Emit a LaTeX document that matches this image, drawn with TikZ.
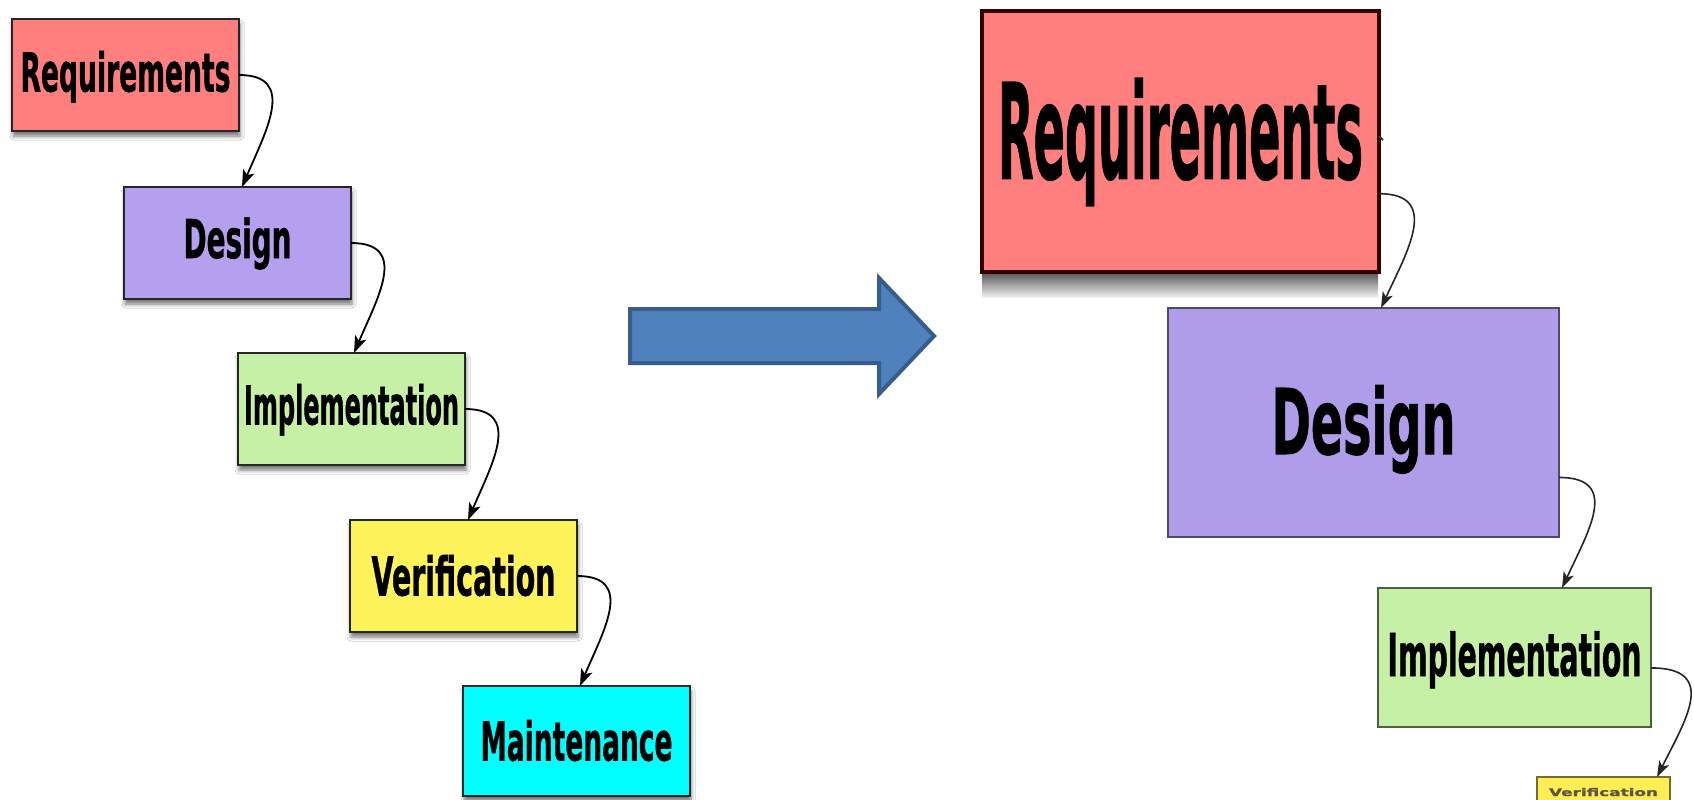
\documentclass[tikz,border=0pt]{standalone}
\usepackage{fontspec}
\setmainfont{DejaVu Sans}[BoldFeatures={FakeBold=1.2}]
\usepackage{graphicx}
\usetikzlibrary{arrows.meta,calc,shadows.blur}

\definecolor{reqred}{HTML}{FF7F7F}
\definecolor{despurple}{HTML}{B4A0EE}
\definecolor{impgreen}{HTML}{C5F0A5}
\definecolor{veryellow}{HTML}{FFF35B}
\definecolor{maincyan}{HTML}{00FFFF}
\definecolor{arrowfill}{HTML}{4F81BD}
\definecolor{arrowline}{HTML}{385D8A}

% squeeze a label to a given width, keeping its height
\newcommand\squeeze[2]{\resizebox{#1pt}{\height}{#2}}

\tikzset{
  face/.style n args={3}{font=\fontsize{#1pt}{#1pt}\selectfont\bfseries,
    text height=#2pt, text depth=#3pt},
  stage/.style={draw=black!85, line width=1.6pt, inner sep=0pt, outer sep=0pt,
    anchor=north west, minimum width=227pt, minimum height=112pt,
    blur shadow={shadow xshift=1pt, shadow yshift=-5pt,
      shadow blur radius=4pt, shadow opacity=55}},
  bigstage/.style={line width=2pt, inner sep=0pt, outer sep=0pt, anchor=north west},
  flow/.style={draw=black, line width=1.8pt,
    -{Stealth[length=17pt, width=12pt, inset=4pt]}},
  thinflow/.style={draw=black!85, line width=1.6pt,
    -{Stealth[length=16pt, width=11pt, inset=4pt]}},
}

\begin{document}
\begin{tikzpicture}[x=1pt, y=-1pt]
\useasboundingbox (0,0) rectangle (1694,800);
\fill[white] (0,0) rectangle (1694,800);

% ---- original cascade ----
\node[stage, fill=reqred, face={53.5}{39}{6}] (req) at (12,19)
  {\squeeze{210}{Requirements}};
\node[stage, fill=despurple, face={53.5}{39}{9}] (des) at (124,187)
  {\squeeze{108}{Design}};
\node[stage, fill=impgreen, face={53.5}{39}{8}] (imp) at (238,353)
  {\squeeze{215}{Implementation}};
\node[stage, fill=veryellow, face={53.5}{39}{0}] (ver) at (350,520)
  {\squeeze{184}{Verification}};
\node[stage, fill=maincyan, face={53.5}{39}{0}, minimum height=110pt] (mai) at (463,686)
  {\squeeze{192}{Maintenance}};

\draw[flow] (req.east) .. controls +(58,0) and +(24,-56) .. ($(req.east |- des.north)+(3,0)$);
\draw[flow] (des.east) .. controls +(58,0) and +(24,-56) .. ($(des.east |- imp.north)+(3,0)$);
\draw[flow] (imp.east) .. controls +(58,0) and +(24,-56) .. ($(imp.east |- ver.north)+(3,0)$);
\draw[flow] (ver.east) .. controls +(58,0) and +(24,-56) .. ($(ver.east |- mai.north)+(3,0)$);

% ---- block arrow ----
\filldraw[fill=arrowfill, draw=arrowline, line width=4pt, line join=miter]
  (630,309) -- (879,309) -- (879,278) -- (934,336) -- (879,394)
  -- (879,363) -- (630,363) -- cycle;

% ---- distorted cascade ----
\shade[top color=black!70, bottom color=black!6] (982,271) rectangle (1378,297);
\node[bigstage, draw=black!80!red, line width=3.5pt, fill=reqred,
  minimum width=397pt, minimum height=261pt, face={132}{96}{22}] (rreq) at (982,11)
  {\squeeze{365}{Requirements}};
\draw[black!80, line width=2pt] (rreq.east |- 0,136) -- ++(4,4);
\node[bigstage, draw=black!55!despurple, fill=despurple!98!black,
  minimum width=391pt, minimum height=229pt, face={90.5}{66}{3}] (rdes) at (1168,308)
  {\squeeze{184}{Design}};
\node[bigstage, draw=black!60!impgreen, fill=impgreen,
  minimum width=273pt, minimum height=139pt, face={59}{43}{6}] (rimp) at (1378,588)
  {\squeeze{254}{Implementation}};
\node[bigstage, draw=black!55!veryellow, fill=veryellow!95!orange,
  minimum width=133pt, minimum height=30pt, face={11}{8}{0}, text=black!75!yellow] (rver) at (1537,777)
  {\resizebox{109pt}{8pt}{Verification}};

\draw[thinflow] ($(rreq.north east)!0.70!(rreq.south east)$) .. controls +(62,0) and +(26,-56) .. ($(rreq.east |- rdes.north)+(2,0)$);
\draw[thinflow] ($(rdes.north east)!0.74!(rdes.south east)$) .. controls +(62,0) and +(26,-56) .. ($(rdes.east |- rimp.north)+(3,0)$);
\draw[thinflow] ($(rimp.north east)!0.575!(rimp.south east)$) .. controls +(68,0) and +(28,-56) .. ($(rimp.east |- rver.north)+(6,0)$);
\end{tikzpicture}
\end{document}
